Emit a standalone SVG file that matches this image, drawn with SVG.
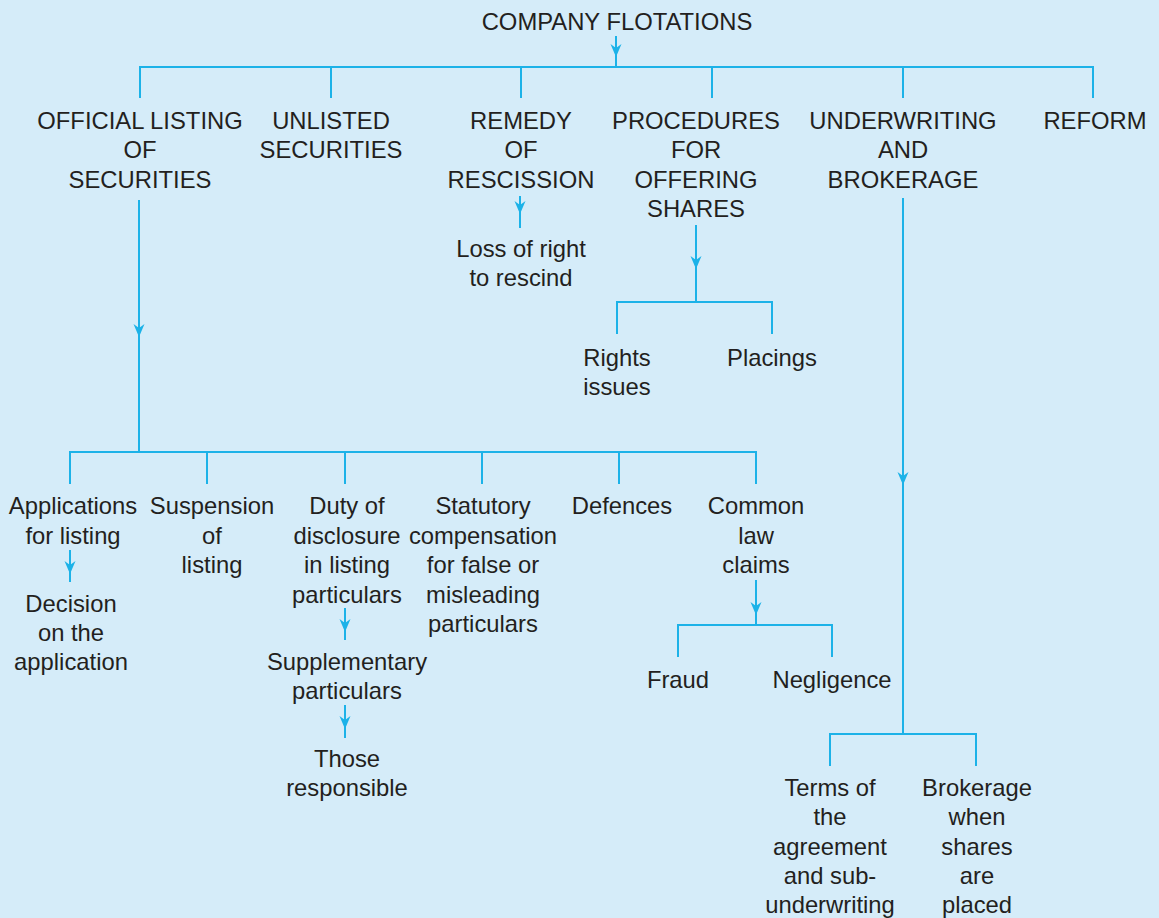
<svg xmlns="http://www.w3.org/2000/svg" width="1159" height="918" viewBox="0 0 1159 918">
  <style>
    .bg { fill: #d5ecf9; }
    .ln { stroke: #1cb2e8; stroke-width: 2; fill: none; }
    .ah { fill: #1cb2e8; }
    text { font-family: "Liberation Sans", Arial, sans-serif; font-size: 23.8px; fill: #231f20; text-anchor: middle; }
  </style>
  <defs>
    <!-- downward arrowhead, tip at origin -->
    <path id="ah" class="ah" d="M0,0 L-5.5,-13 L0,-9 L5.5,-13 Z"/>
  </defs>
  <rect class="bg" x="0" y="0" width="1159" height="918"/>

  <g id="connectors">
    <!-- root fan-out -->
    <path class="ln" d="M616,36 V67 M140,98 V67 H1093 V98 M331,67 V98 M521,67 V98 M712,67 V98 M903,67 V98"/>
    <use href="#ah" x="616" y="57"/>
    <!-- remedy of rescission -->
    <path class="ln" d="M520,196 V228"/>
    <use href="#ah" x="520" y="214"/>
    <!-- procedures for offering shares -->
    <path class="ln" d="M696,225 V302 M617,334 V302 H772 V334"/>
    <use href="#ah" x="696" y="269"/>
    <!-- official listing -->
    <path class="ln" d="M139,200 V452 M70,484 V452 H756 V484 M207,452 V484 M345,452 V484 M482,452 V484 M619,452 V484"/>
    <use href="#ah" x="139" y="337"/>
    <path class="ln" d="M70,550 V582"/>
    <use href="#ah" x="70" y="574"/>
    <path class="ln" d="M345,608 V640"/>
    <use href="#ah" x="345" y="632"/>
    <path class="ln" d="M345,705 V738"/>
    <use href="#ah" x="345" y="729"/>
    <!-- common law claims -->
    <path class="ln" d="M756,580 V625 M678,657 V625 H832 V657"/>
    <use href="#ah" x="756" y="615"/>
    <!-- underwriting and brokerage -->
    <path class="ln" d="M903,198 V734 M830,766 V734 H976 V766"/>
    <use href="#ah" x="903" y="485"/>
  </g>

  <g id="company-flotations"><text x="617" y="30">COMPANY FLOTATIONS</text></g>

  <g id="official-listing">
    <text x="140" y="129">OFFICIAL LISTING</text>
    <text x="140" y="158">OF</text>
    <text x="140" y="188">SECURITIES</text>
  </g>
  <g id="unlisted">
    <text x="331" y="129">UNLISTED</text>
    <text x="331" y="158">SECURITIES</text>
  </g>
  <g id="remedy">
    <text x="521" y="129">REMEDY</text>
    <text x="521" y="158">OF</text>
    <text x="521" y="188">RESCISSION</text>
  </g>
  <g id="procedures">
    <text x="696" y="129">PROCEDURES</text>
    <text x="696" y="158">FOR</text>
    <text x="696" y="188">OFFERING</text>
    <text x="696" y="217">SHARES</text>
  </g>
  <g id="underwriting">
    <text x="903" y="129">UNDERWRITING</text>
    <text x="903" y="158">AND</text>
    <text x="903" y="188">BROKERAGE</text>
  </g>
  <g id="reform"><text x="1095" y="129">REFORM</text></g>

  <g id="loss-of-right">
    <text x="521" y="257">Loss of right</text>
    <text x="521" y="286">to rescind</text>
  </g>
  <g id="rights-issues">
    <text x="617" y="366">Rights</text>
    <text x="617" y="395">issues</text>
  </g>
  <g id="placings"><text x="772" y="366">Placings</text></g>

  <g id="applications">
    <text x="73" y="514">Applications</text>
    <text x="73" y="544">for listing</text>
  </g>
  <g id="decision">
    <text x="71" y="612">Decision</text>
    <text x="71" y="641">on the</text>
    <text x="71" y="670">application</text>
  </g>
  <g id="suspension">
    <text x="212" y="514">Suspension</text>
    <text x="212" y="544">of</text>
    <text x="212" y="573">listing</text>
  </g>
  <g id="duty-of-disclosure">
    <text x="347" y="514">Duty of</text>
    <text x="347" y="544">disclosure</text>
    <text x="347" y="573">in listing</text>
    <text x="347" y="603">particulars</text>
  </g>
  <g id="supplementary">
    <text x="347" y="670">Supplementary</text>
    <text x="347" y="699">particulars</text>
  </g>
  <g id="those-responsible">
    <text x="347" y="767">Those</text>
    <text x="347" y="796">responsible</text>
  </g>
  <g id="statutory-compensation">
    <text x="483" y="514">Statutory</text>
    <text x="483" y="544">compensation</text>
    <text x="483" y="573">for false or</text>
    <text x="483" y="603">misleading</text>
    <text x="483" y="632">particulars</text>
  </g>
  <g id="defences"><text x="622" y="514">Defences</text></g>
  <g id="common-law">
    <text x="756" y="514">Common</text>
    <text x="756" y="544">law</text>
    <text x="756" y="573">claims</text>
  </g>
  <g id="fraud"><text x="678" y="688">Fraud</text></g>
  <g id="negligence"><text x="832" y="688">Negligence</text></g>

  <g id="terms">
    <text x="830" y="796">Terms of</text>
    <text x="830" y="825">the</text>
    <text x="830" y="855">agreement</text>
    <text x="830" y="884">and sub-</text>
    <text x="830" y="913">underwriting</text>
  </g>
  <g id="brokerage">
    <text x="977" y="796">Brokerage</text>
    <text x="977" y="825">when</text>
    <text x="977" y="855">shares</text>
    <text x="977" y="884">are</text>
    <text x="977" y="913">placed</text>
  </g>
</svg>
